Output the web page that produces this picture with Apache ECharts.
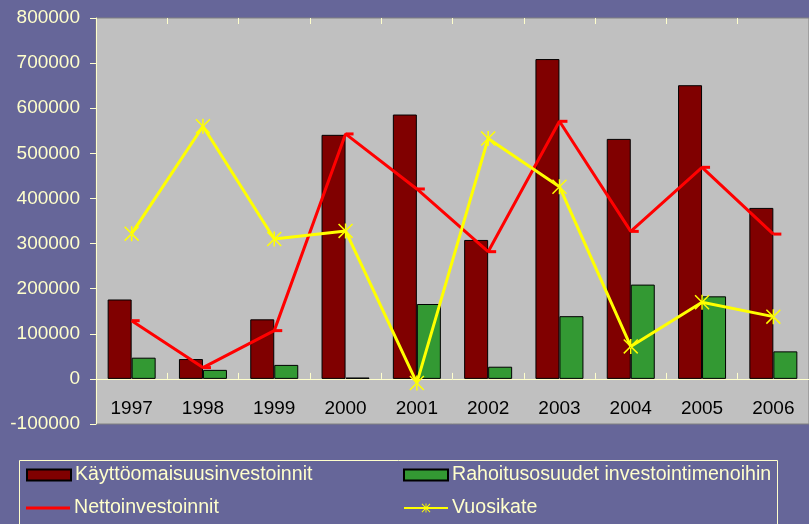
<!DOCTYPE html>
<html>
<head>
<meta charset="utf-8">
<script src="https://cdn.jsdelivr.net/npm/echarts@6/dist/echarts.min.js"></script>
<style>
  html, body { margin: 0; padding: 0; background: #666699; }
  #mainChart { width: 809px; height: 524px; }
</style>
</head>
<body>
<div id="mainChart"></div>
<script>
var vuodet = ['1997', '1998', '1999', '2000', '2001', '2002', '2003', '2004', '2005', '2006'];
var kayttoomaisuus = [176000, 44000, 132000, 541000, 586000, 308000, 709000, 532000, 651000, 379000];
var rahoitusosuudet = [47000, 20000, 31000, 3000, 166000, 27000, 139000, 209000, 183000, 61000];
var nettoinvestoinnit = [129000, 25000, 107000, 543000, 421000, 282000, 571000, 327000, 469000, 321000];
var vuosikate = [322000, 560000, 310000, 328000, -9000, 533000, 426000, 72000, 170000, 138000];

var cream = '#FFFFCC';
var tahti = 'path://M4.5,0 L5.5,0 L5.5,10 L4.5,10 Z M0,0.7 L0.7,0 L10,9.3 L9.3,10 Z M10,0.7 L9.3,0 L0,9.3 L0.7,10 Z';

// yksi selite kerrallaan, jotta paikat pysyvät
function selite(nimi, x, y, ikoni) {
    var item = { name: nimi };
    if (ikoni) item.icon = ikoni;
    return {
        left: x,
        top: y,
        itemWidth: 44,
        itemHeight: 11,
        itemGap: 0,
        padding: 0,
        textStyle: { color: cream, fontSize: 19.6, padding: [0, 0, 0, -1] },
        data: [item]
    };
}

var myChart = echarts.init(document.getElementById('mainChart'));
var option = {
    backgroundColor: '#666699',
    textStyle: { fontFamily: 'Liberation Sans, Arial, sans-serif' },
    animation: false,
    grid: {
        left: 96,
        top: 18,
        width: 720,
        height: 406,
        show: true,
        backgroundColor: '#C0C0C0',
        borderColor: '#808080',
        borderWidth: 1
    },
    legend: [
        selite('Käyttöomaisuusinvestoinnit', 26, 465, 'rect'),
        selite('Nettoinvestoinnit', 26, 498, 'path://M0,4 L44,4 L44,7 L0,7 Z'),
        selite('Rahoitusosuudet investointimenoihin', 403, 465, 'rect'),
        selite('Vuosikate', 403, 498)
    ],
    graphic: [
        {
            type: 'rect',
            shape: { x: 19.5, y: 460.5, width: 758, height: 80 },
            style: { fill: 'none', stroke: cream, lineWidth: 1 },
            silent: true
        }
    ],
    xAxis: [
        {
            type: 'category',
            data: vuodet,
            position: 'bottom',
            axisLine: { show: false, onZero: false },
            axisTick: { show: false },
            axisLabel: { inside: true, margin: 6, color: '#000', fontSize: 19 }
        },
        {
            type: 'category',
            data: vuodet,
            axisLine: { show: true, onZero: true, lineStyle: { color: cream, width: 1 } },
            axisTick: { show: true, length: 6, lineStyle: { color: cream } },
            axisLabel: { show: false }
        },
        {
            type: 'category',
            data: vuodet,
            axisLine: { show: false, onZero: true },
            axisTick: { show: true, inside: true, length: 6, lineStyle: { color: cream } },
            axisLabel: { show: false }
        }
    ],
    yAxis: {
        type: 'value',
        min: -100000,
        max: 800000,
        interval: 100000,
        axisLine: { show: true, lineStyle: { color: cream, width: 1 } },
        axisTick: { show: true, length: 6, lineStyle: { color: cream } },
        splitLine: { show: false },
        axisLabel: {
            color: cream,
            fontSize: 19,
            margin: 16,
            formatter: function (v) { return String(v); }
        }
    },
    series: [
        {
            name: 'Käyttöomaisuusinvestoinnit',
            type: 'bar',
            data: kayttoomaisuus,
            barWidth: 24,
            barGap: '0%',
            itemStyle: { color: '#800000', borderColor: '#000', borderWidth: 1 }
        },
        {
            name: 'Rahoitusosuudet investointimenoihin',
            type: 'bar',
            data: rahoitusosuudet,
            barWidth: 24,
            barGap: '0%',
            itemStyle: { color: '#339933', borderColor: '#000', borderWidth: 1 }
        },
        {
            name: 'Nettoinvestoinnit',
            type: 'line',
            data: nettoinvestoinnit,
            symbol: 'rect',
            symbolSize: [8, 3],
            symbolOffset: [4, 0],
            showAllSymbol: true,
            lineStyle: { color: '#FF0000', width: 3 },
            itemStyle: { color: '#FF0000' },
            z: 5
        },
        {
            name: 'Vuosikate',
            type: 'line',
            data: vuosikate,
            symbol: tahti,
            symbolSize: 15,
            showAllSymbol: true,
            lineStyle: { color: '#FFFF00', width: 3 },
            itemStyle: { color: '#FFFF00' },
            z: 6
        }
    ]
};
myChart.setOption(option);
</script>
</body>
</html>
